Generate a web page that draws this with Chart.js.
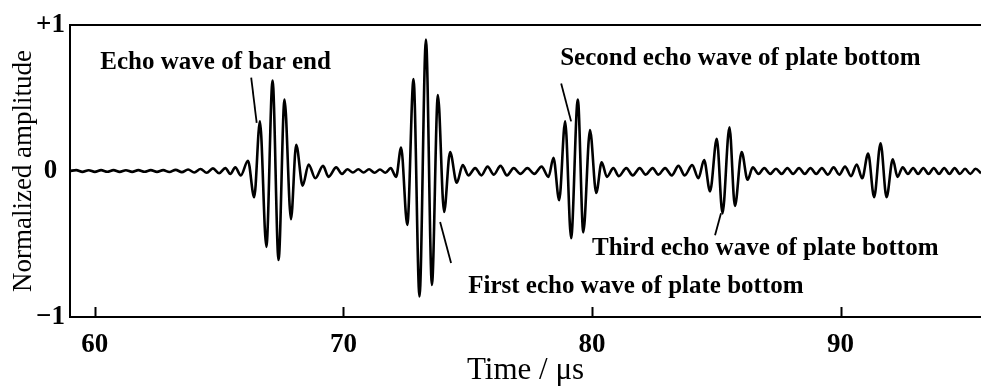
<!DOCTYPE html>
<html>
<head>
<meta charset="utf-8">
<title>Echo waveform</title>
<script src="https://cdn.jsdelivr.net/npm/chart.js@4.4.1/dist/chart.umd.min.js"></script>
<style>
  html, body { margin: 0; padding: 0; background: #fff; }
  #wave { display: block; }
</style>
</head>
<body>
<canvas id="wave" width="981" height="389"></canvas>
<script>
// waveform as [time (us), normalized amplitude] at each crest / trough
const leadIn = [
    [59.00, 0.000], [59.25, 0.006], [59.50, -0.006], [59.75, 0.005], [60.00, -0.006],
    [60.25, 0.006], [60.50, -0.005], [60.75, 0.006], [61.00, -0.006], [61.25, 0.005],
    [61.50, -0.006], [61.75, 0.006], [62.00, -0.005], [62.25, 0.006], [62.50, -0.006],
    [62.75, 0.006], [63.00, -0.007], [63.25, 0.008], [63.50, -0.008], [63.75, 0.010],
    [64.00, -0.010], [64.25, 0.014], [64.50, -0.012], [64.75, 0.018], [65.00, -0.015],
    [65.25, 0.020], [65.45, -0.020], [65.65, 0.025], [65.87, -0.030]
]
const barEndEcho = [
    [66.16, 0.07], [66.41, -0.18], [66.64, 0.34], [66.90, -0.52], [67.15, 0.62],
    [67.39, -0.61], [67.63, 0.49], [67.89, -0.33], [68.10, 0.18], [68.36, -0.10],
    [68.60, 0.045], [68.87, -0.05], [69.18, 0.035], [69.40, -0.04], [69.71, 0.025],
    [69.94, -0.02]
]
const gapOne = [
    [70.16, 0.012], [70.38, -0.010], [70.60, 0.012], [70.81, -0.010], [71.03, 0.012],
    [71.25, -0.012], [71.47, 0.010], [71.69, -0.012], [71.90, 0.020]
]
const firstPlateEcho = [
    [72.12, -0.04], [72.32, 0.16], [72.57, -0.37], [72.82, 0.63], [73.06, -0.86],
    [73.32, 0.90], [73.56, -0.78], [73.80, 0.52], [74.05, -0.28], [74.29, 0.13],
    [74.56, -0.08], [74.80, 0.04], [75.03, -0.03]
]
const gapTwo = [
    [75.30, 0.02], [75.55, -0.03], [75.80, 0.03], [76.05, -0.025], [76.32, 0.035],
    [76.58, -0.03], [76.85, 0.02], [77.12, -0.02], [77.40, 0.02], [77.68, -0.02],
    [77.97, 0.03]
]
const secondPlateEcho = [
    [78.25, -0.04], [78.45, 0.09], [78.68, -0.20], [78.92, 0.34], [79.16, -0.46],
    [79.43, 0.49], [79.65, -0.42], [79.92, 0.28], [80.17, -0.15], [80.39, 0.06],
    [80.60, -0.04]
]
const gapThree = [
    [80.86, 0.02], [81.08, -0.035], [81.38, 0.02], [81.64, -0.03], [81.92, 0.02],
    [82.16, -0.025], [82.44, 0.02], [82.67, -0.025], [82.94, 0.02], [83.21, -0.03],
    [83.48, 0.035], [83.73, -0.03], [84.03, 0.04], [84.28, -0.05]
]
const thirdPlateEcho = [
    [84.51, 0.075], [84.75, -0.14], [85.02, 0.22], [85.25, -0.29], [85.53, 0.30],
    [85.75, -0.24], [86.02, 0.13], [86.26, -0.06], [86.47, 0.025]
]
const gapFour = [
    [86.70, -0.02], [86.93, 0.02], [87.17, -0.02], [87.40, 0.015], [87.63, -0.02],
    [87.86, 0.02], [88.09, -0.02], [88.33, 0.02], [88.56, -0.02], [88.79, 0.02],
    [89.02, -0.02], [89.25, 0.02], [89.49, -0.025], [89.72, 0.025], [89.95, -0.025],
    [90.18, 0.03], [90.42, -0.035], [90.65, 0.045], [90.87, -0.05]
]
const fourthPlateEcho = [
    [91.11, 0.12], [91.35, -0.18], [91.61, 0.19], [91.85, -0.18], [92.10, 0.08],
    [92.29, -0.04]
]
const tailOut = [
    [92.50, 0.025], [92.71, -0.02], [92.92, 0.02], [93.12, -0.02], [93.33, 0.02],
    [93.54, -0.02], [93.75, 0.02], [93.96, -0.02], [94.17, 0.02], [94.38, -0.02],
    [94.59, 0.02], [94.80, -0.02], [95.01, 0.015], [95.22, -0.02], [95.43, 0.015],
    [95.65, -0.015]
]

const timeTicks = [60, 70, 80, 90]
const ampTicks = [-1, 0, 1]
const ampTickLabels = ['\u22121', '0', '+1']

const callouts = [
    { text: 'Echo wave of bar end', at: [60.22, 0.74], from: [66.29, 0.64], to: [66.51, 0.33] },
    { text: 'First echo wave of plate bottom', at: [75.02, -0.79], from: [73.89, -0.35], to: [74.33, -0.63] },
    { text: 'Second echo wave of plate bottom', at: [78.72, 0.77], from: [78.76, 0.60], to: [79.16, 0.34] },
    { text: 'Third echo wave of plate bottom', at: [80.00, -0.53], from: [85.19, -0.29], to: [84.95, -0.44] }
]

const serif = "'Liberation Serif', 'Times New Roman', serif"

const wavePoints = [
    ...leadIn, ...barEndEcho, ...gapOne, ...firstPlateEcho, ...gapTwo, ...secondPlateEcho,
    ...gapThree, ...thirdPlateEcho, ...gapFour, ...fourthPlateEcho, ...tailOut
].map(p => ({ x: p[0], y: p[1] }))

// top frame line, inward ticks and the callout labels
const frameAndCallouts = {
    id: 'frameAndCallouts',
    afterDraw(chart) {
        const { ctx, chartArea } = chart
        const xs = chart.scales.x
        const ys = chart.scales.y
        ctx.save()
        ctx.strokeStyle = '#000'
        ctx.lineWidth = 2
        ctx.beginPath()
        ctx.moveTo(chartArea.left, chartArea.top)
        ctx.lineTo(chartArea.right, chartArea.top)
        timeTicks.forEach(v => {
            const px = Math.round(xs.getPixelForValue(v)) + 0.5
            ctx.moveTo(px, chartArea.bottom)
            ctx.lineTo(px, chartArea.bottom - 10)
        })
        ctx.stroke()

        ctx.lineWidth = 1.8
        ctx.fillStyle = '#000'
        ctx.font = "bold 25px " + serif
        ctx.textAlign = 'left'
        ctx.textBaseline = 'middle'
        callouts.forEach(c => {
            ctx.beginPath()
            ctx.moveTo(xs.getPixelForValue(c.from[0]), ys.getPixelForValue(c.from[1]))
            ctx.lineTo(xs.getPixelForValue(c.to[0]), ys.getPixelForValue(c.to[1]))
            ctx.stroke()
            ctx.fillText(c.text, xs.getPixelForValue(c.at[0]), ys.getPixelForValue(c.at[1]))
        })
        ctx.restore()
    }
}

const ctx = document.getElementById('wave')

new Chart(ctx, {
    type: 'line',
    data: {
        datasets: [{
            data: wavePoints,
            borderColor: '#000',
            borderWidth: 2.6,
            pointRadius: 0,
            fill: false,
            cubicInterpolationMode: 'monotone'
        }]
    },
    options: {
        responsive: false,
        animation: false,
        layout: { padding: { top: 25, right: 0, bottom: 0, left: 0 } },
        plugins: {
            legend: { display: false },
            tooltip: { enabled: false }
        },
        scales: {
            x: {
                type: 'linear',
                min: 59.0,
                max: 95.65,
                afterBuildTicks: s => { s.ticks = timeTicks.map(v => ({ value: v })) },
                afterFit: s => { s.height = 72 },
                grid: { display: false, drawTicks: false },
                border: { display: true, color: '#000', width: 2 },
                ticks: {
                    color: '#000',
                    padding: 12,
                    maxRotation: 0,
                    autoSkip: false,
                    font: { family: serif, size: 27, weight: 'bold' }
                },
                title: {
                    display: true,
                    text: 'Time / \u03bcs',
                    color: '#000',
                    padding: { top: 0, bottom: 0 },
                    font: { family: serif, size: 31 }
                }
            },
            y: {
                min: -1,
                max: 1,
                afterBuildTicks: s => { s.ticks = ampTicks.map(v => ({ value: v })) },
                afterFit: s => { s.width = 70 },
                grid: { display: false, drawTicks: false },
                border: { display: true, color: '#000', width: 2 },
                ticks: {
                    color: '#000',
                    padding: 5,
                    crossAlign: 'center',
                    font: { family: serif, size: 27, weight: 'bold' },
                    callback: v => ampTickLabels[ampTicks.indexOf(v)]
                },
                title: {
                    display: true,
                    text: 'Normalized amplitude',
                    color: '#000',
                    padding: { top: 8, bottom: 0 },
                    font: { family: serif, size: 27 }
                }
            }
        }
    },
    plugins: [frameAndCallouts]
})
</script>
</body>
</html>
